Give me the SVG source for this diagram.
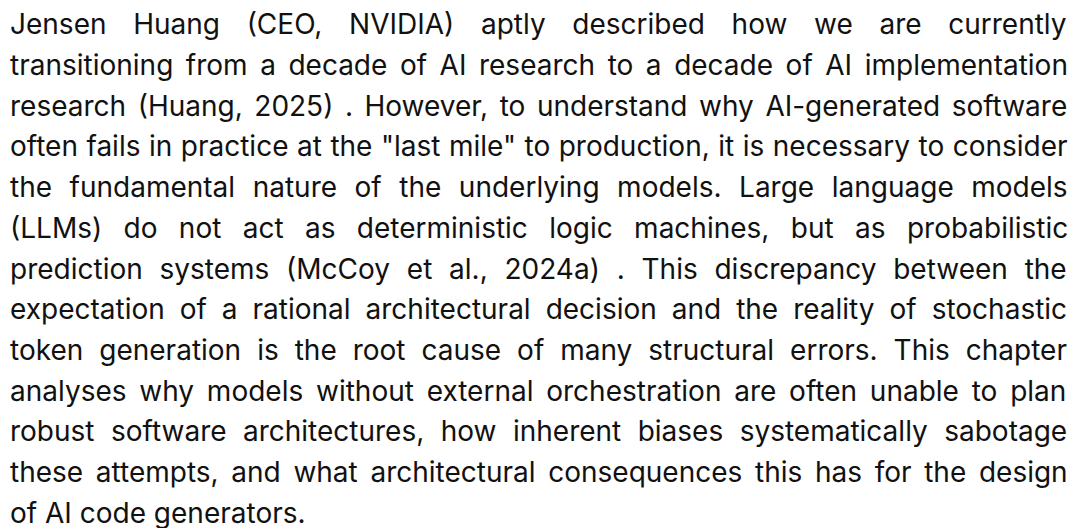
<svg xmlns="http://www.w3.org/2000/svg" width="1076" height="528" viewBox="0 0 1076 528">
<style>
text{font-family:Inter,"Noto Sans","Liberation Sans",sans-serif;font-size:28px;fill:#111;}
</style>
<rect width="1076" height="528" fill="#fff"/>
<g id="paragraph">
<text x="10" y="34.3" word-spacing="18.8">Jensen Huang (CEO, NVIDIA) aptly described how we are currently</text>
<text x="10" y="75" word-spacing="4.67">transitioning from a decade of AI research to a decade of AI implementation</text>
<text x="10" y="115.7" word-spacing="3.67">research (Huang, 2025) . However, to understand why AI-generated software</text>
<text x="10" y="156.4" word-spacing="0.64">often fails in practice at the "last mile" to production, it is necessary to consider</text>
<text x="10" y="197.1" word-spacing="9.67">the fundamental nature of the underlying models. Large language models</text>
<text x="10" y="237.8" word-spacing="13.5">(LLMs) do not act as deterministic logic machines, but as probabilistic</text>
<text x="10" y="278.5" word-spacing="8.9">prediction systems (McCoy et al., 2024a) . This discrepancy between the</text>
<text x="10" y="319.2" word-spacing="7.1">expectation of a rational architectural decision and the reality of stochastic</text>
<text x="10" y="359.9" word-spacing="8.1">token generation is the root cause of many structural errors. This chapter</text>
<text x="10" y="400.6" word-spacing="4.9">analyses why models without external orchestration are often unable to plan</text>
<text x="10" y="441.3" word-spacing="8.57">robust software architectures, how inherent biases systematically sabotage</text>
<text x="10" y="482" word-spacing="4.8">these attempts, and what architectural consequences this has for the design</text>
<text x="10" y="522.7">of AI code generators.</text>
</g>
</svg>
